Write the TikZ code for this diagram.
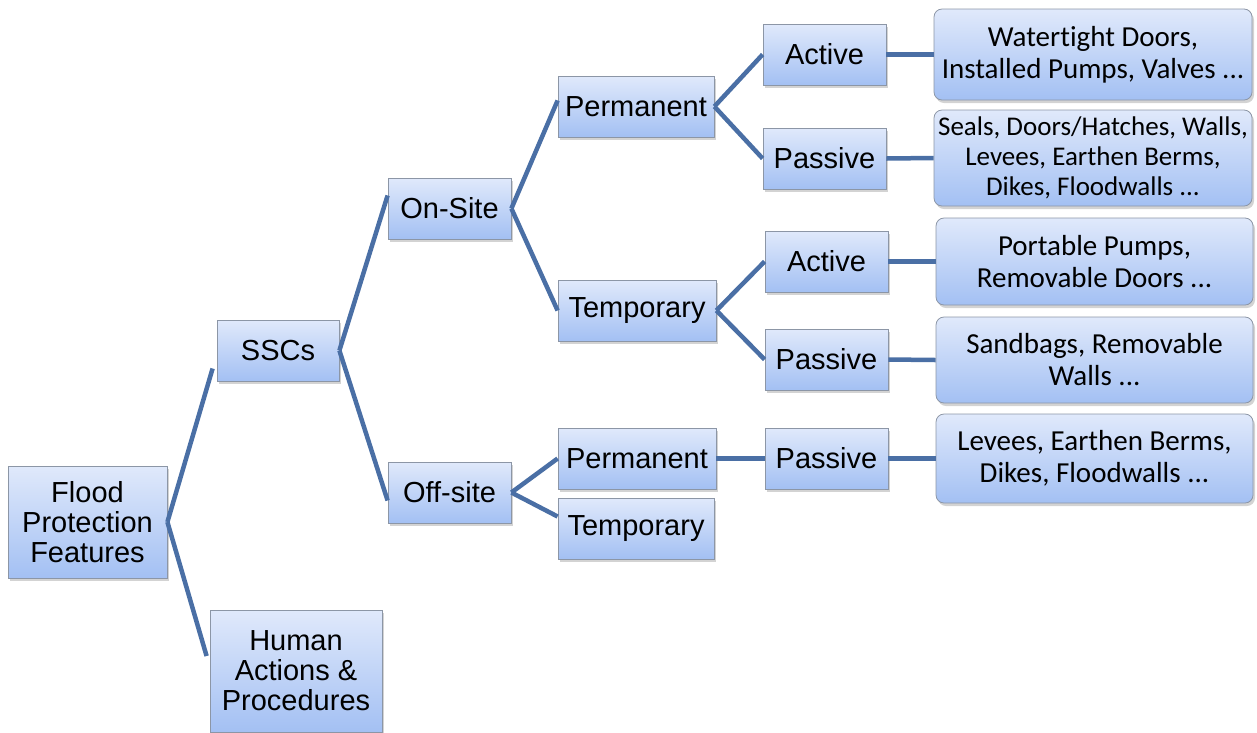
\documentclass[tikz,border=0pt]{standalone}
\usepackage{fontspec}
\setmainfont{Liberation Sans}
\newfontfamily\leaffont[Ligatures=NoCommon]{Carlito}
\usetikzlibrary{shadows}
\definecolor{linec}{HTML}{4A6FA5}
\definecolor{boxtop}{HTML}{E0E9FB}
\definecolor{boxbot}{HTML}{A3C0F3}
\definecolor{boxdraw}{HTML}{8C96A6}
\tikzset{
  box/.style={draw=boxdraw, line width=0.8pt, top color=boxtop, bottom color=boxbot,
    inner sep=0pt, align=center, font=\fontsize{29}{30}\selectfont,
    drop shadow={shadow xshift=2pt, shadow yshift=-3pt, opacity=0.35}},
  leaf/.style={box, rounded corners=8pt, font=\leaffont\fontsize{29}{32}\selectfont},
  smallleaf/.style={leaf, font=\leaffont\fontsize{27}{30}\selectfont},
  conn/.style={draw=linec, line width=4.5pt},
}
\newcommand{\bx}[6]{\node[#1, minimum width=#4pt, minimum height=#5pt] (#2) at (#3) {#6};}
\begin{document}
\begin{tikzpicture}[x=1pt,y=-1pt]
\useasboundingbox (0,0) rectangle (1257,732);
\bx{box}{flood}{87.5,522}{159}{112}{Flood\\Protection\\Features}
\bx{box}{ssc}{278,350.5}{122}{61}{SSCs}
\bx{box}{human}{296,671}{172}{122}{Human\\Actions \&\\Procedures}
\bx{box}{on}{449.5,208.5}{123}{61}{On-Site}
\bx{box}{off}{449.5,492.5}{123}{61}{Off-site}
\bx{box}{perma}{636,106.5}{156}{61}{Permanent}
\bx{box}{tempa}{637,310.5}{158}{61}{Temporary}
\bx{box}{permb}{637,458.5}{158}{61}{Permanent}
\bx{box}{tempb}{636,528.5}{156}{61}{Temporary}
\bx{box}{acta}{824.5,54.5}{123}{61}{Active}
\bx{box}{pasa}{824.5,158.5}{123}{61}{Passive}
\bx{box}{actb}{826.5,261.5}{123}{61}{Active}
\bx{box}{pasb}{826.5,359.5}{123}{61}{Passive}
\bx{box}{pasc}{826.5,458.5}{123}{61}{Passive}
\bx{leaf}{leafa}{1093,54.5}{318}{91}{Watertight Doors,\\Installed Pumps, Valves ...}
\bx{smallleaf}{leafb}{1093,158}{318}{96}{Seals, Doors/Hatches, Walls,\\Levees, Earthen Berms,\\Dikes, Floodwalls ...}
\bx{leaf}{leafc}{1094.5,261.5}{317}{87}{Portable Pumps,\\Removable Doors ...}
\bx{leaf}{leafd}{1094.5,360}{317}{86}{Sandbags, Removable\\Walls ...}
\bx{leaf}{leafe}{1094.5,458.5}{317}{89}{Levees, Earthen Berms,\\Dikes, Floodwalls ...}
\begin{scope}[conn]
\draw (flood.east) -- ([xshift=-4pt,yshift=-18pt]ssc.west);
\draw (flood.east) -- ([xshift=-3pt,yshift=15pt]human.west);
\draw (ssc.east) -- ([yshift=13pt]on.west);
\draw (ssc.east) -- ([yshift=-8pt]off.west);
\draw (on.east) -- ([yshift=6pt]perma.west);
\draw (on.east) -- (tempa.west);
\draw (off.east) -- (permb.west);
\draw (off.east) -- ([yshift=12pt]tempb.west);
\draw (perma.east) -- (acta.west);
\draw (perma.east) -- (pasa.west);
\draw (tempa.east) -- (actb.west);
\draw (tempa.east) -- (pasb.west);
\draw (permb.east) -- (pasc.west);
\draw (acta.east) -- (leafa.west);
\draw (pasa.east) -- (leafb.west);
\draw (actb.east) -- (leafc.west);
\draw (pasb.east) -- (leafd.west);
\draw (pasc.east) -- (leafe.west);
\end{scope}
\end{tikzpicture}
\end{document}
